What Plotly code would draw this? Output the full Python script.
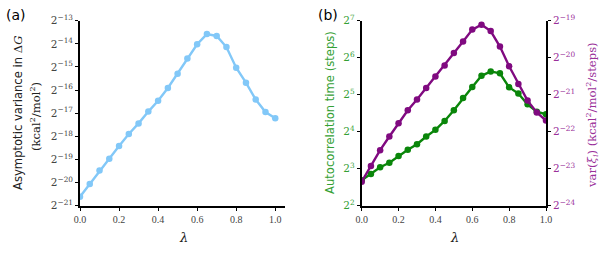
import plotly.graph_objects as go

lam = [0.0, 0.05, 0.1, 0.15, 0.2, 0.25, 0.3, 0.35, 0.4, 0.45, 0.5,
       0.55, 0.6, 0.65, 0.7, 0.75, 0.8, 0.85, 0.9, 0.95, 1.0]
# log2 of asymptotic variance in dG (panel a)
var_dG_log2 = [-20.61, -20.06, -19.48, -18.97, -18.42, -17.90, -17.44, -16.93, -16.46, -15.91, -15.29,
               -14.63, -14.02, -13.58, -13.66, -14.14, -15.03, -15.68, -16.41, -16.95, -17.22]
# log2 of autocorrelation time (panel b, left)
tau_log2 = [2.69, 2.86, 3.04, 3.16, 3.34, 3.51, 3.66, 3.87, 4.05, 4.29, 4.58,
            4.91, 5.21, 5.51, 5.63, 5.58, 5.20, 5.03, 4.74, 4.54, 4.47]
# log2 of var(xi) (panel b, right)
varxi_log2 = [-23.35, -22.93, -22.50, -22.13, -21.77, -21.42, -21.13, -20.82, -20.51, -20.21, -19.87,
              -19.56, -19.24, -19.11, -19.28, -19.70, -20.23, -20.71, -21.16, -21.48, -21.70]

a_exps = list(range(-21, -12))
bl_exps = list(range(2, 8))
br_exps = list(range(-24, -18))
x_ticks = [0.0, 0.2, 0.4, 0.6, 0.8, 1.0]

BLUE = "#82c8f8"
GREEN = "#0a860a"
GREEN_T = "#34a034"
PURPLE = "#800a80"
PURPLE_T = "#9a309a"
SERIF = "DejaVu Serif"
XSERIF = "Liberation Serif"
SANS = "DejaVu Sans"
L10 = 0.30102999566

def ptxt(e):
    return "2<sup>%s</sup>" % (str(e).replace("-", "\u2212"))

fig = go.Figure()
fig.add_trace(go.Scatter(x=lam, y=[2 ** v for v in var_dG_log2], mode="lines+markers",
                         line=dict(color=BLUE, width=2.4), marker=dict(color=BLUE, size=6.5),
                         xaxis="x", yaxis="y", showlegend=False))
fig.add_trace(go.Scatter(x=lam, y=[2 ** v for v in tau_log2], mode="lines+markers",
                         line=dict(color=GREEN, width=2.4), marker=dict(color=GREEN, size=6.5),
                         xaxis="x2", yaxis="y2", showlegend=False))
fig.add_trace(go.Scatter(x=lam, y=[2 ** v for v in varxi_log2], mode="lines+markers",
                         line=dict(color=PURPLE, width=2.4), marker=dict(color=PURPLE, size=6.5),
                         xaxis="x2", yaxis="y3", showlegend=False))

ydom = [1 - 205.7 / 255, 1 - 20.7 / 255]
common_x = dict(showgrid=False, zeroline=False, showline=True, linecolor="black", linewidth=1.8,
                ticks="outside", ticklen=3, tickwidth=1, tickcolor="black", automargin=False,
                tickvals=x_ticks, ticktext=["%.1f" % t for t in x_ticks],
                tickfont=dict(family=XSERIF, size=10, color="#444"))
common_y = dict(type="log", showgrid=False, zeroline=False, showline=True, linecolor="black",
                linewidth=1.8, ticks="outside", ticklen=3, tickwidth=1, tickcolor="black",
                automargin=False)

fig.update_layout(
    template="none",
    width=611, height=255, margin=dict(l=0, r=0, t=0, b=0),
    plot_bgcolor="white", paper_bgcolor="white",
    xaxis=dict(domain=[80 / 611, 285 / 611], range=[0, 1.05], anchor="y", **common_x),
    yaxis=dict(domain=ydom, range=[-21 * L10, -13 * L10], anchor="x",
               tickvals=[2 ** e for e in a_exps], ticktext=[ptxt(e) for e in a_exps],
               tickfont=dict(family=SERIF, size=10.5, color="#444"), **common_y),
    xaxis2=dict(domain=[361.7 / 611, 546 / 611], range=[0, 1], anchor="y2", **common_x),
    yaxis2=dict(domain=ydom, range=[2 * L10, 7 * L10], anchor="x2",
                tickvals=[2 ** e for e in bl_exps], ticktext=[ptxt(e) for e in bl_exps],
                tickfont=dict(family=SERIF, size=10.5, color=GREEN_T), **common_y),
    yaxis3=dict(overlaying="y2", side="right", anchor="x2",
                range=[-24 * L10, -19 * L10],
                tickvals=[2 ** e for e in br_exps], ticktext=[ptxt(e) for e in br_exps],
                tickfont=dict(family=SERIF, size=10.5, color=PURPLE_T), **common_y),
)

ann = [
    dict(x=16, y=15, text="(a)", font=dict(family=SANS, size=14, color="black")),
    dict(x=328, y=15, text="(b)", font=dict(family=SANS, size=14, color="black")),
    dict(x=183, y=237, text="<i>\u03bb</i>", font=dict(family=SERIF, size=13, color="#222")),
    dict(x=454, y=237, text="<i>\u03bb</i>", font=dict(family=SERIF, size=13, color="#222")),
    dict(x=18, y=113, textangle=-90,
         text="Asymptotic variance in <span style=\"font-family:DejaVu Serif\">\u0394<i>G</i></span>",
         font=dict(family=SANS, size=11.6, color="#222")),
    dict(x=35, y=117, textangle=-90,
         text="(kcal<sup>2</sup>/mol<sup>2</sup>)",
         font=dict(family=SERIF, size=11.6, color="#222")),
    dict(x=330, y=113, textangle=-90, text="Autocorrelation time (steps)",
         font=dict(family=SANS, size=11.6, color=GREEN_T)),
    dict(x=592, y=115, textangle=-90,
         text="var(<i>\u03be<sub>i</sub></i>) (kcal<sup>2</sup>/mol<sup>2</sup>/steps)",
         font=dict(family=SERIF, size=11.6, color=PURPLE_T)),
]
for a in ann:
    fig.add_annotation(xref="paper", yref="paper", x=a["x"] / 611, y=1 - a["y"] / 255,
                       xanchor="center", yanchor="middle", showarrow=False,
                       text=a["text"], font=a["font"], textangle=a.get("textangle", 0))

fig.write_html("out.html", config={"displayModeBar": False},
               post_script="document.body.style.margin='0';document.body.style.padding='0';")
